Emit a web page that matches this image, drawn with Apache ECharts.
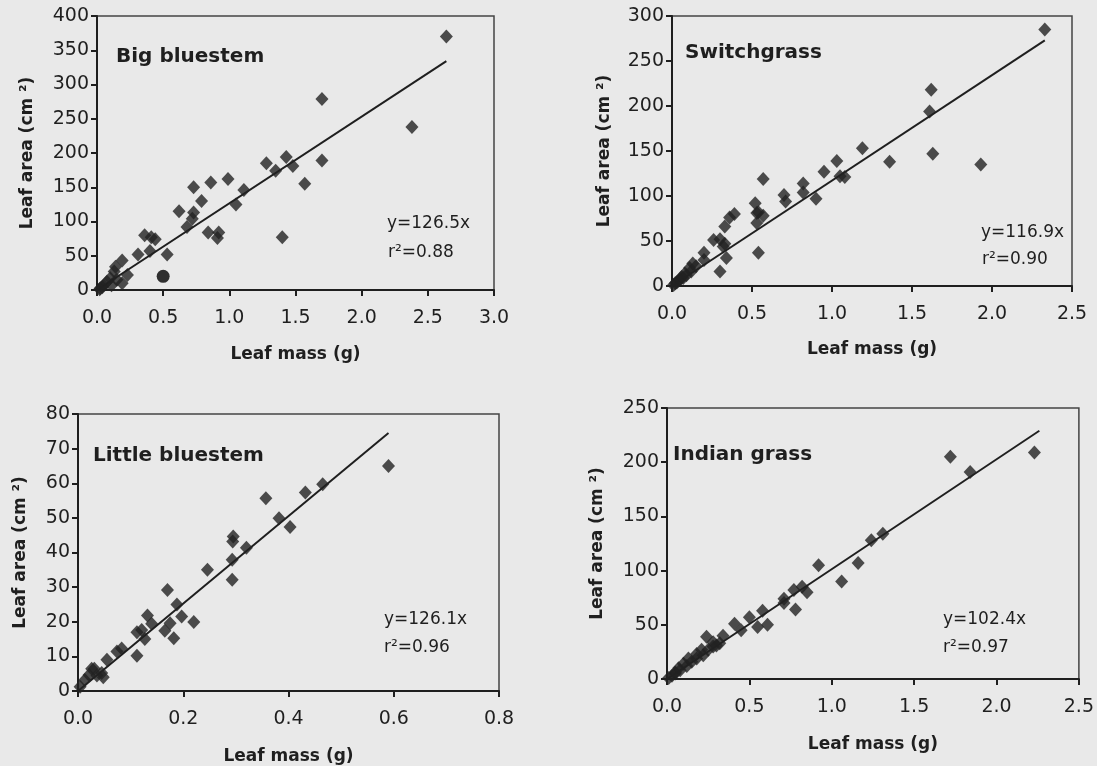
<!DOCTYPE html>
<html><head><meta charset="utf-8">
<script src="https://cdn.jsdelivr.net/npm/echarts@6/dist/echarts.min.js"></script>
<style>html,body{margin:0;padding:0;background:#e9e9e9;}#c{width:1097px;height:766px;}</style>
</head><body><div id="c"></div>
<script>
// ---- data ----
const panelTitles = ["Big bluestem", "Switchgrass", "Little bluestem", "Indian grass"];
const fitEquations = ["y=126.5x", "y=116.9x", "y=126.1x", "y=102.4x"];
const fitR2 = ["r\u00B2=0.88", "r\u00B2=0.90", "r\u00B2=0.96", "r\u00B2=0.97"];
const xAxisMax = [3.0, 2.5, 0.8, 2.5];
const xAxisStep = [0.5, 0.5, 0.2, 0.5];
const yAxisMax = [400, 300, 80, 250];
const yAxisStep = [50, 50, 10, 50];

const bigBluestem = [[2.64,370],[1.70,279],[2.38,238],[1.70,189],[1.43,194],[1.48,181],[1.28,185],[1.35,174],[1.57,155],[1.40,77],[1.11,146],[1.05,125],[0.99,162],[0.86,157],[0.73,150],[0.79,130],[0.62,115],[0.73,113],[0.72,104],[0.68,92],[0.84,84],[0.91,76],[0.92,84],[0.53,52],[0.44,74],[0.41,77],[0.36,80],[0.40,57],[0.31,52],[0.23,22],[0.19,43],[0.14,34],[0.13,27],[0.19,10],[0.15,15],[0.10,17],[0.075,12],[0.05,7],[0.025,2.5],[0.11,7],[0.04,4],[0.02,1]];
const bigBluestemOutlier = [[0.50,20]];
const switchgrass = [[2.33,285],[1.62,218],[1.61,194],[1.63,147],[1.93,135],[1.36,138],[1.19,153],[1.03,139],[1.08,121],[1.05,122],[0.95,127],[0.82,114],[0.82,104],[0.90,97],[0.70,101],[0.71,94],[0.57,119],[0.52,92],[0.54,82],[0.57,78],[0.53,81],[0.53,70],[0.54,37],[0.39,80],[0.36,76],[0.33,66],[0.30,52],[0.26,51],[0.33,47],[0.32,44],[0.34,31],[0.30,16],[0.20,37],[0.20,29],[0.13,25],[0.11,20],[0.08,14],[0.06,10],[0.04,6],[0.02,3],[0.01,1],[0.03,4],[0.05,7],[0.07,9],[0.09,12],[0.12,16],[0.15,22]];
const littleBluestem = [[0.59,65],[0.465,59.7],[0.432,57.3],[0.357,55.7],[0.382,49.9],[0.403,47.4],[0.32,41.4],[0.295,44.6],[0.294,43.2],[0.293,37.9],[0.293,32.1],[0.246,35],[0.17,29.2],[0.188,25],[0.197,21.5],[0.22,19.9],[0.175,19.6],[0.165,17.4],[0.182,15.2],[0.132,21.8],[0.14,19.4],[0.121,17.6],[0.112,17],[0.127,15],[0.112,10.2],[0.083,12.3],[0.074,11.4],[0.055,9],[0.045,5.2],[0.036,4.5],[0.026,6.4],[0.021,4.6],[0.013,3.2],[0.004,1.2],[0.048,4],[0.031,6.4]];
const indianGrass = [[2.23,209],[1.72,205],[1.84,191],[1.31,134],[1.24,128],[0.92,105],[1.16,107],[1.06,90],[0.85,80],[0.82,85],[0.77,82],[0.78,64],[0.71,74],[0.71,70],[0.58,63],[0.61,50],[0.55,48],[0.50,57],[0.41,51],[0.45,45],[0.34,40],[0.24,39],[0.28,34],[0.32,33],[0.21,27],[0.18,23],[0.13,19],[0.10,14],[0.07,10],[0.05,6],[0.03,3],[0.05,5],[0.08,8],[0.12,12],[0.15,16],[0.18,19],[0.22,22],[0.25,27],[0.28,30],[0.30,31],[0.01,1]];
const fitLines = [
  [[0,0],[2.64,334]],
  [[0,0],[2.33,273]],
  [[0,0],[0.59,74.5]],
  [[0,0],[2.26,229]]
];
const pointSets = [bigBluestem, switchgrass, littleBluestem, indianGrass];

// ---- layout ----
const grids = [
  {left:97, top:16, width:397, height:274},
  {left:672, top:16, width:400, height:270},
  {left:78, top:414, width:421, height:277},
  {left:667, top:408, width:414, height:271}
];
const xNameGap = [56, 55, 57, 57];
const yNameGap = [61, 59, 49, 61];
const titlePos = [[116,57],[685,53],[93,456],[673,455]];
const eqPos = [[387,224],[981,233],[384,620],[943,620]];
const r2Pos = [[388,253],[982,260],[384,648],[943,648]];

const ink = '#1f1f1f';
const FONT = 'DejaVu Sans';
const option = {
  backgroundColor: '#e9e9e9',
  animation: false,
  grid: grids.map(g => Object.assign({show:true, borderColor:'#444', borderWidth:1.5, backgroundColor:'transparent'}, g)),
  xAxis: grids.map((g,i) => ({
    type:'value', gridIndex:i, min:0, max:xAxisMax[i], interval:xAxisStep[i],
    name:'Leaf mass (g)', nameLocation:'middle', nameGap:xNameGap[i],
    nameTextStyle:{fontFamily:FONT, fontWeight:'bold', fontSize:17, color:ink},
    axisLine:{show:true, onZero:false, lineStyle:{color:ink, width:2}},
    axisTick:{show:true, inside:false, length:6, lineStyle:{color:ink, width:2}},
    axisLabel:{fontFamily:FONT, fontSize:19, color:ink, margin:19, formatter:v=>v.toFixed(1)},
    splitLine:{show:false}
  })),
  yAxis: grids.map((g,i) => ({
    type:'value', gridIndex:i, min:0, max:yAxisMax[i], interval:yAxisStep[i],
    name:'Leaf area (cm \u00B2)', nameLocation:'middle', nameGap:yNameGap[i], nameRotate:90,
    nameTextStyle:{fontFamily:FONT, fontWeight:'bold', fontSize:17, color:ink},
    axisLine:{show:true, onZero:false, lineStyle:{color:ink, width:2}},
    axisTick:{show:true, inside:false, length:6, lineStyle:{color:ink, width:2}},
    axisLabel:{fontFamily:FONT, fontSize:19, color:ink, margin:8},
    splitLine:{show:false}
  })),
  series: [],
  graphic: []
};
pointSets.forEach((pts,i) => {
  option.series.push({type:'line', xAxisIndex:i, yAxisIndex:i, data:fitLines[i], symbol:'none', silent:true,
    lineStyle:{color:ink, width:2}, z:2});
  option.series.push({type:'scatter', xAxisIndex:i, yAxisIndex:i, data:pts, symbol:'diamond', symbolSize:[13,14],
    itemStyle:{color:'#222'}, z:3});
});
option.series.push({type:'scatter', xAxisIndex:0, yAxisIndex:0, data:bigBluestemOutlier, symbol:'circle', symbolSize:13,
  itemStyle:{color:'#000'}, z:4});
panelTitles.forEach((t,i) => {
  option.graphic.push({type:'text', x:titlePos[i][0], y:titlePos[i][1], style:{text:t, fontFamily:FONT, fontWeight:'bold', fontSize:20, fill:ink, verticalAlign:'middle'}});
  option.graphic.push({type:'text', x:eqPos[i][0], y:eqPos[i][1], style:{text:fitEquations[i], fontFamily:FONT, fontSize:17, fill:ink, verticalAlign:'middle'}});
  option.graphic.push({type:'text', x:r2Pos[i][0], y:r2Pos[i][1], style:{text:fitR2[i], fontFamily:FONT, fontSize:17, fill:ink, verticalAlign:'middle'}});
});
const chart = echarts.init(document.getElementById('c'), null, {renderer:'canvas'});
chart.setOption(option);
</script></body></html>
